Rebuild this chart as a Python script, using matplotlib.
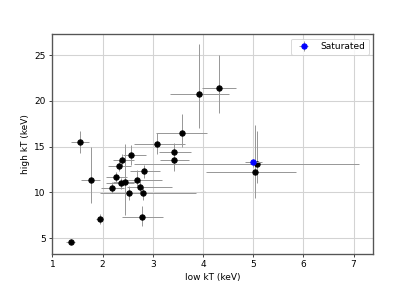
import numpy as np
import matplotlib
matplotlib.use("Agg")
import matplotlib.pyplot as plt

# Black points: low kT, high kT, and asymmetric errors
low_kT  = [1.37, 1.55, 1.76, 1.94, 2.18, 2.27, 2.33, 2.39, 2.37, 2.45, 2.57, 2.53, 2.68, 2.75, 2.81, 2.82, 2.78, 3.09, 3.59, 3.43, 3.43, 3.93, 4.31, 5.07, 5.03]
high_kT = [4.64, 15.51, 11.39, 7.15, 10.5, 11.64, 12.92, 13.5, 10.99, 11.2, 14.12, 9.93, 11.38, 10.55, 9.96, 12.3, 7.33, 15.29, 16.53, 14.45, 13.6, 20.73, 21.46, 13.1, 12.19]
low_err_minus = [0.09, 0.18, 0.18, 0.07, 0.21, 0.2, 0.22, 0.18, 0.3, 0.24, 0.17, 0.25, 0.23, 0.27, 0.86, 0.27, 0.39, 0.46, 0.53, 0.31, 0.28, 0.59, 0.33, 2.44, 0.97]
low_err_plus  = [0.09, 0.18, 0.19, 0.07, 0.24, 0.21, 0.23, 0.23, 0.25, 0.2, 0.29, 0.22, 0.5, 0.63, 1.06, 0.32, 0.43, 0.55, 0.5, 0.34, 0.3, 0.59, 0.34, 2.04, 0.83]
high_err_minus = [0.3, 1.2, 2.59, 0.55, 0.6, 0.6, 0.6, 0.65, 0.6, 3.7, 1.16, 0.8, 0.7, 0.75, 0.75, 0.7, 1.0, 1.1, 1.53, 0.85, 1.3, 3.73, 2.81, 2.1, 2.81]
high_err_plus  = [0.3, 1.2, 3.57, 0.55, 0.6, 0.6, 0.6, 0.7, 0.6, 4.1, 1.03, 0.8, 1.1, 0.75, 0.75, 0.75, 1.25, 1.2, 2.05, 0.9, 0.6, 5.51, 3.58, 3.6, 5.18]

# Saturated point
sat_low = [4.99]
sat_high = [13.28]
sat_low_err = [[0.16], [0.19]]
sat_high_err = [[0.48], [0.42]]

x_ticks = [1, 2, 3, 4, 5, 6, 7]
y_ticks = [5, 10, 15, 20, 25]

fig = plt.figure(figsize=(6.4, 291 / (415 / 6.4)), dpi=415 / 6.4)
ax = fig.add_axes([0.125, 0.127, 0.774, 0.756])

ax.errorbar(low_kT, high_kT,
            xerr=[low_err_minus, low_err_plus],
            yerr=[high_err_minus, high_err_plus],
            fmt='o', color='black', ms=6, ecolor='#999999', elinewidth=1.1, zorder=3)
ax.errorbar(sat_low, sat_high, xerr=sat_low_err, yerr=sat_high_err,
            fmt='o', color='blue', ms=6, ecolor='#999999', elinewidth=1.1, zorder=4,
            label='Saturated')

ax.set_xlim(0.99, 7.39)
ax.set_ylim(3.28, 27.3)
ax.set_xticks(x_ticks)
ax.set_yticks(y_ticks)
ax.grid(True, color='lightgray', linewidth=1.2)
ax.set_axisbelow(True)
ax.set_xlabel('low kT (keV)')
ax.set_ylabel('high kT (keV)')
for s in ax.spines.values():
    s.set_color('#555555')
    s.set_linewidth(1.5)
ax.legend(loc='upper right')

fig.savefig('out.png', dpi=415 / 6.4)
